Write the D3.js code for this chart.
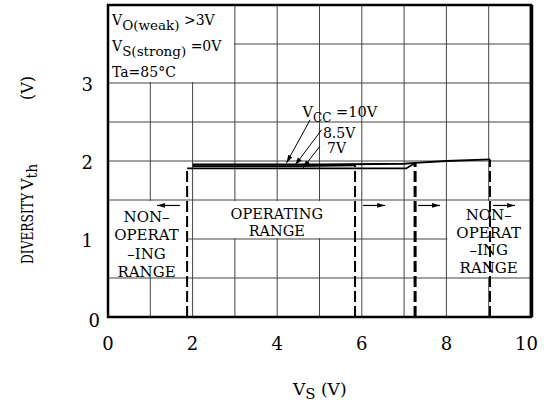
<!DOCTYPE html>
<html><head><meta charset="utf-8">
<script src="https://cdn.jsdelivr.net/npm/d3@7"></script>
<style>
html,body{margin:0;padding:0;background:#fff;}
svg{display:block;}
text{font-family:"DejaVu Serif",serif;fill:#000;}
</style></head>
<body>
<script>
// ---- data ----
const xTicks = [0, 2, 4, 6, 8, 10];
const yTicks = [0, 1, 2, 3];
const xGridVals = [1, 2, 3, 4, 5, 6, 7, 8, 9];
const yGridVals = [0.5, 1, 1.5, 2, 2.5, 3, 3.5];
const seriesNames = ["10V", "8.5V", "7V"];
const vcc10 = [[2.0, 1.955], [5.0, 1.955], [7.0, 1.965], [7.26, 1.975], [8.0, 2.0], [9.03, 2.02]];
const vcc85 = [[2.0, 1.935], [4.5, 1.935], [5.84, 1.945]];
const vcc7 = [[1.87, 1.905], [7.05, 1.905], [7.26, 1.975]];
const limitX = [1.87, 5.84, 7.26, 9.03];
const limitTop = [1.905, 1.945, 1.975, 2.02];
// label boxes [x0,x1,y0,y1]
const boxes = [[0, 3, 3, 4], [0, 1.87, 0.5, 1.5], [2, 5.84, 1, 1.5], [8, 10, 0.5, 1.5]];
// arrows [xFrom, xTo, y]
const rangeArrows = [[1.7, 1.16, 1.43], [6.03, 6.55, 1.43], [7.33, 7.85, 1.43], [9.1, 9.62, 1.43]];
// leader lines [x1,y1,x2,y2]
const leaders = [[4.78, 2.53, 4.22, 1.975], [5.05, 2.40, 4.42, 1.945], [5.01, 2.19, 4.61, 1.91]];
const leaderLabelPos = [[4.6, 2.56], [5.08, 2.295], [5.18, 2.1]];

const W = 544, H = 402;
const L = 108, R = 531, T = 5, B = 317;
const x = d3.scaleLinear().domain([0, 10]).range([L, R]);
const y = d3.scaleLinear().domain([0, 4]).range([B, T]);

const svg = d3.select("body").append("svg").attr("width", W).attr("height", H);

// grid
const g = svg.append("g");
g.selectAll(".vg").data(xGridVals).join("line")
  .attr("x1", d => x(d)).attr("x2", d => x(d)).attr("y1", T).attr("y2", B)
  .attr("stroke", "#444").attr("stroke-width", 1);
g.selectAll(".hg").data(yGridVals).join("line")
  .attr("x1", L).attr("x2", R).attr("y1", d => y(d)).attr("y2", d => y(d))
  .attr("stroke", "#444").attr("stroke-width", 1);

// masks for labels
svg.selectAll(".mask").data(boxes).join("rect")
  .attr("x", d => x(d[0]) + 1).attr("y", d => y(d[3]) + 1)
  .attr("width", d => x(d[1]) - x(d[0]) - 2).attr("height", d => y(d[2]) - y(d[3]) - 2)
  .attr("fill", "#fff");

// dashed limit lines
svg.selectAll(".lim").data(limitX).join("line")
  .attr("x1", d => x(d)).attr("x2", d => x(d))
  .attr("y1", B).attr("y2", (d, i) => y(limitTop[i]))
  .attr("stroke", "#000").attr("stroke-width", (d, i) => i === 2 ? 3 : 2)
  .attr("stroke-dasharray", "11,4");

// curves
const line = d3.line().x(d => x(d[0])).y(d => y(d[1]));
svg.selectAll(".curve").data([vcc10, vcc85, vcc7]).join("path")
  .attr("d", line).attr("fill", "none").attr("stroke", "#000").attr("stroke-width", 1.8);

// arrow marker
const defs = svg.append("defs");
defs.append("marker").attr("id", "ah").attr("viewBox", "0 0 10 6").attr("refX", 10).attr("refY", 3)
  .attr("markerWidth", 8).attr("markerHeight", 4.8).attr("markerUnits", "userSpaceOnUse").attr("orient", "auto")
  .append("path").attr("d", "M0,0 L10,3 L0,6 Z").attr("fill", "#000");

svg.selectAll(".ra").data(rangeArrows).join("line")
  .attr("x1", d => x(d[0])).attr("x2", d => x(d[1])).attr("y1", d => y(d[2])).attr("y2", d => y(d[2]))
  .attr("stroke", "#000").attr("stroke-width", 1.2).attr("marker-end", "url(#ah)");

svg.selectAll(".ld").data(leaders).join("line")
  .attr("x1", d => x(d[0])).attr("y1", d => y(d[1])).attr("x2", d => x(d[2])).attr("y2", d => y(d[3]))
  .attr("stroke", "#000").attr("stroke-width", 1).attr("marker-end", "url(#ah)");

// leader labels
const ll = svg.selectAll(".ll").data(leaderLabelPos).join("text")
  .attr("x", d => x(d[0])).attr("y", d => y(d[1])).attr("font-size", 14);
ll.each(function (d, i) {
  const t = d3.select(this);
  if (i === 0) {
    t.attr("font-size", 14.5);
    t.append("tspan").text("V");
    t.append("tspan").attr("dy", 5).attr("font-size", 12).text("CC");
    t.append("tspan").attr("dy", -5).text(" =" + seriesNames[0]);
  } else {
    t.text(seriesNames[i]);
  }
});

// border
svg.append("rect").attr("x", L).attr("y", T).attr("width", R - L).attr("height", B - T)
  .attr("fill", "none").attr("stroke", "#000").attr("stroke-width", 2.5);
svg.append("line").attr("x1", R + 0.5).attr("x2", R + 0.5).attr("y1", T).attr("y2", B)
  .attr("stroke", "#000").attr("stroke-width", 3.5);

// notes top-left
const n1 = svg.append("text").attr("x", 112).attr("y", 25).attr("font-size", 14);
n1.append("tspan").text("V");
n1.append("tspan").attr("dy", 5).attr("font-size", 13.5).text("O(weak)");
n1.append("tspan").attr("dy", -5).text(" >3V");
const n2 = svg.append("text").attr("x", 112).attr("y", 51).attr("font-size", 14);
n2.append("tspan").text("V");
n2.append("tspan").attr("dy", 5).attr("font-size", 13.5).text("S(strong)");
n2.append("tspan").attr("dy", -5).text(" =0V");
svg.append("text").attr("x", 112).attr("y", 77).attr("font-size", 14).text("Ta=85°C");

// box labels
function block(lines, cx, y0, dy, size) {
  svg.append("g").selectAll("text").data(lines).join("text")
    .attr("x", cx).attr("y", (d, i) => y0 + i * dy).attr("text-anchor", "middle")
    .attr("font-size", size).text(d => d);
}
block(["NON–", "OPERAT", "–ING", "RANGE"], (x(0) + x(1.87)) / 2 - 1, 222, 18.3, 15);
block(["OPERATING", "RANGE"], (x(2) + x(5.84)) / 2 + 3, 219, 16.5, 14.5);
block(["NON–", "OPERAT", "–ING", "RANGE"], (x(8) + x(10)) / 2, 220, 17.7, 15);

// axes tick labels
svg.selectAll(".xt").data(xTicks).join("text")
  .attr("x", d => d === 10 ? 538 : x(d)).attr("y", 350)
  .attr("text-anchor", d => d === 10 ? "end" : "middle").attr("font-size", 18).text(d => d);
svg.selectAll(".yt").data(yTicks).join("text")
  .attr("x", d => d === 0 ? 100 : 93).attr("y", d => d === 0 ? 327 : y(d) + 8)
  .attr("text-anchor", "end").attr("font-size", 18).text(d => d);

// axis titles
const xt = svg.append("text").attr("x", 293).attr("y", 395).attr("font-size", 17);
xt.append("tspan").text("V");
xt.append("tspan").attr("dy", 4).attr("font-size", 15).text("S");
xt.append("tspan").attr("dy", -4).text("  (V)");
const yg = svg.append("g").attr("transform", "translate(33,0) rotate(-90)");
yg.append("text").attr("x", -264).attr("y", 0).attr("font-size", 16)
  .attr("textLength", 71).attr("lengthAdjust", "spacingAndGlyphs").text("DIVERSITY");
const yv = yg.append("text").attr("x", -190).attr("y", 0).attr("font-size", 16);
yv.append("tspan").text("V");
yv.append("tspan").attr("dy", 4).attr("font-size", 14).text("th");
yg.append("text").attr("x", -100).attr("y", 0).attr("font-size", 16).text("(V)");
</script>
</body></html>
